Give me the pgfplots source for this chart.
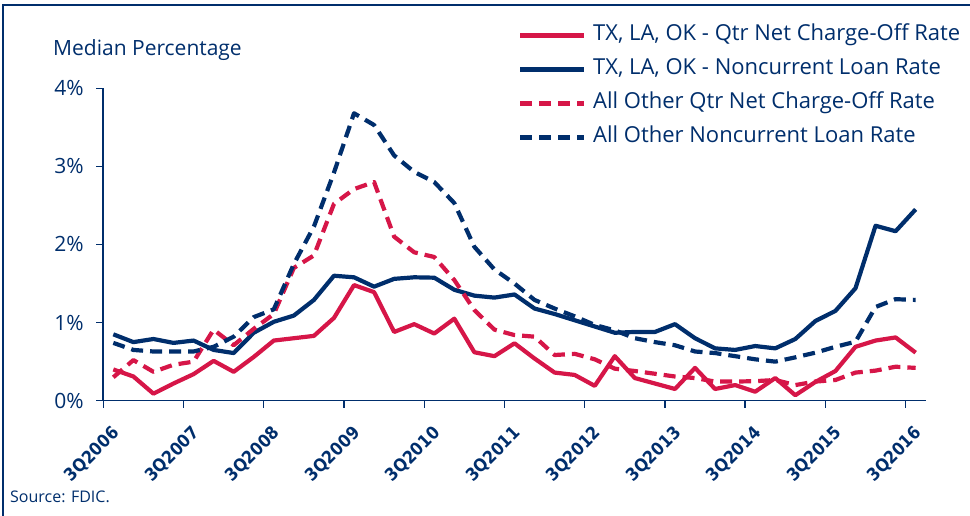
\documentclass[border=0pt]{standalone}
\usepackage{pgfplots}
\pgfplotsset{compat=1.18}
\usepackage{pgfplotstable}
\usepackage{fontspec}
\setmainfont{Open Sans}
\newfontfamily\condfont{DejaVu Sans Condensed}

\definecolor{navy}{RGB}{0,46,108}
\definecolor{crim}{RGB}{214,22,72}

% quarters 3Q2006 .. 3Q2016, points at category centres
\pgfplotstableread{
x     txco   txnc   aoco   aonc
0.5   0.40   0.85   0.30   0.74
1.5   0.31   0.75   0.52   0.65
2.5   0.09   0.79   0.37   0.63
3.5   0.22   0.74   0.46   0.63
4.5   0.34   0.77   0.50   0.63
5.5   0.51   0.65   0.91   0.69
6.5   0.37   0.61   0.71   0.82
7.5   0.56   0.87   0.92   1.07
8.5   0.77   1.01   1.11   1.17
9.5   0.80   1.09   1.70   1.75
10.5  0.83   1.29   1.86   2.23
11.5  1.06   1.60   2.52   2.92
12.5  1.48   1.58   2.71   3.68
13.5  1.39   1.46   2.80   3.53
14.5  0.88   1.56   2.10   3.14
15.5  0.98   1.58   1.90   2.93
16.5  0.86   1.575  1.84   2.80
17.5  1.05   1.42   1.545  2.53
18.5  0.62   1.345  1.16   1.97
19.5  0.57   1.32   0.91   1.68
20.5  0.735  1.36   0.84   1.50
21.5  0.54   1.18   0.82   1.29
22.5  0.36   1.11   0.585  1.18
23.5  0.33   1.03   0.60   1.08
24.5  0.19   0.95   0.53   0.97
25.5  0.57   0.87   0.41   0.90
26.5  0.29   0.88   0.38   0.80
27.5  0.22   0.88   0.345  0.75
28.5  0.15   0.98   0.31   0.71
29.5  0.42   0.80   0.29   0.63
30.5  0.15   0.67   0.245  0.61
31.5  0.20   0.65   0.245  0.57
32.5  0.115  0.70   0.25   0.53
33.5  0.29   0.67   0.265  0.50
34.5  0.07   0.79   0.20   0.555
35.5  0.24   1.02   0.245  0.615
36.5  0.38   1.15   0.265  0.69
37.5  0.69   1.44   0.36   0.755
38.5  0.77   2.24   0.385  1.20
39.5  0.81   2.17   0.435  1.30
40.5  0.615  2.45   0.42   1.29
}\rates

\begin{document}
\begin{tikzpicture}[x=1pt,y=1pt]
\useasboundingbox (0,0) rectangle (970,516);
% frame (top and left)
\draw[navy, line width=1.5pt] (3,0) -- (3,511) -- (970,511);
\node[anchor=base west, text=navy, font=\fontsize{21}{24}\selectfont, inner sep=0pt] at (53,460) {Median Percentage};
\node[anchor=base west, text=navy, font=\fontsize{16}{18}\selectfont, inner sep=0pt] at (10,13) {Source: FDIC.};

\begin{axis}[
    at={(103.3pt,115.3pt)}, anchor=south west,
    scale only axis, width=822.4pt, height=312.4pt,
    xmin=0, xmax=41, ymin=0, ymax=4,
    axis lines*=left,
    axis line style={navy, line width=1.6pt},
    tick style={navy, line width=1.4pt},
    tick align=outside, major tick length=7pt,
    xtick={0,4,...,40},
    xticklabels={3Q2006,3Q2007,3Q2008,3Q2009,3Q2010,3Q2011,3Q2012,3Q2013,3Q2014,3Q2015,3Q2016},
    xticklabel style={font=\condfont\bfseries\fontsize{17.5}{20}\selectfont, text=navy,
        xshift=14pt, yshift=-22pt, rotate=45, anchor=east, inner sep=1pt},
    ytick={0,1,2,3,4},
    yticklabels={0\%,1\%,2\%,3\%,4\%},
    yticklabel style={font=\fontsize{21}{23}\selectfont, text=navy, xshift=-9pt},
    clip=false,
    legend style={draw=none, fill=none, at={(axis description cs:0.504,1.200)}, anchor=north west,
        inner sep=0pt, row sep=15pt, font=\fontsize{22}{24}\selectfont, text=navy,
        nodes={inner sep=0pt, text height=14.5pt, text depth=4.5pt}},
    legend cell align=left,
    legend image code/.code={\draw[#1] (0pt,0pt) -- (64pt,0pt);},
    every axis plot/.append style={line width=4.2pt, line join=round},
]
\addplot[crim] table[x=x, y=txco] {\rates};
\addlegendentry{\hspace{7pt}TX, LA, OK - Qtr Net Charge-Off Rate}
\addplot[navy] table[x=x, y=txnc] {\rates};
\addlegendentry{\hspace{7pt}TX, LA, OK - Noncurrent Loan Rate}
\addplot[crim, dash pattern=on 12pt off 7pt] table[x=x, y=aoco] {\rates};
\addlegendentry{\hspace{7pt}All Other Qtr Net Charge-Off Rate}
\addplot[navy, dash pattern=on 12pt off 7pt] table[x=x, y=aonc] {\rates};
\addlegendentry{\hspace{7pt}All Other Noncurrent Loan Rate}
\end{axis}
\end{tikzpicture}
\end{document}
